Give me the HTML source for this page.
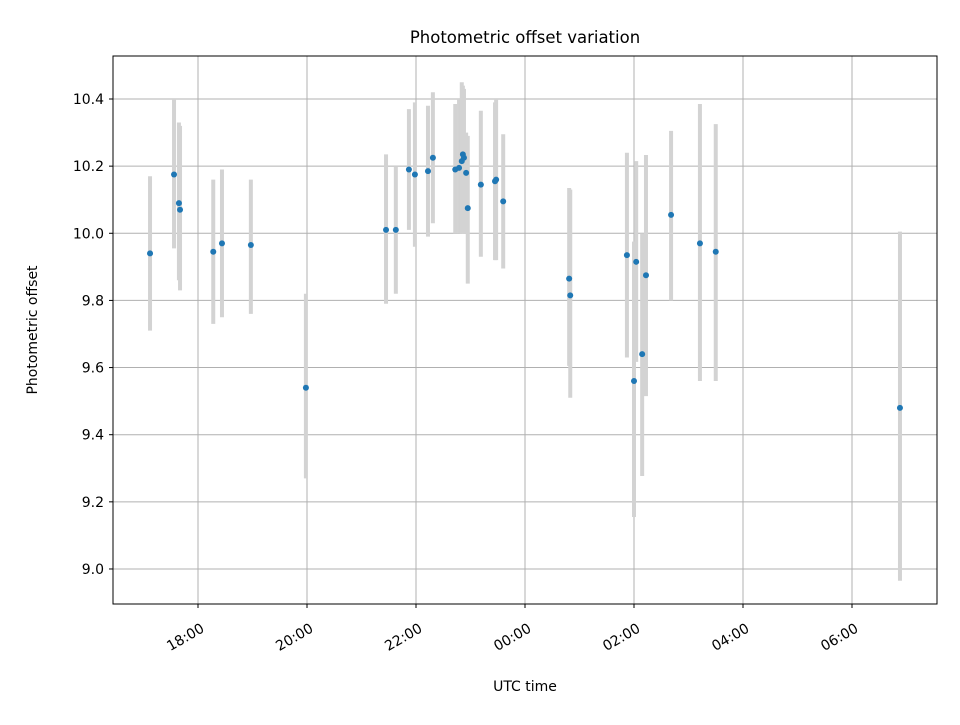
<!DOCTYPE html>
<html><head><meta charset="utf-8"><style>
body{margin:0;background:#fff}
svg text{font-family:"DejaVu Sans","Liberation Sans",sans-serif;fill:#000}
</style></head><body>
<svg id="chart" width="960" height="720" xmlns="http://www.w3.org/2000/svg">
<rect width="960" height="720" fill="#fff"/>
<g id="grid"></g>
<g id="bars"></g>
<g id="pts"></g>
<rect x="113" y="56" width="824" height="548" fill="none" stroke="#000" stroke-width="1"/>
<g id="axes"></g>
<text x="525" y="43" font-size="16.5" text-anchor="middle">Photometric offset variation</text>
<text x="525" y="691" font-size="14" text-anchor="middle">UTC time</text>
<text transform="translate(37,330) rotate(-90)" font-size="14" text-anchor="middle">Photometric offset</text>
</svg>
<script>
const times=[17.12,17.56,17.65,17.67,18.28,18.44,18.97,19.98,21.45,21.63,21.87,21.98,22.22,22.31,22.72,22.79,22.84,22.86,22.88,22.92,22.95,23.19,23.45,23.47,23.60,24.81,24.83,25.87,26.0,26.04,26.15,26.22,26.68,27.21,27.50,30.88];
const values=[9.94,10.175,10.09,10.07,9.945,9.97,9.965,9.54,10.01,10.01,10.19,10.175,10.185,10.225,10.19,10.195,10.215,10.235,10.225,10.18,10.075,10.145,10.155,10.16,10.095,9.865,9.815,9.935,9.56,9.915,9.64,9.875,10.055,9.97,9.945,9.48];
const errHi=[10.17,10.40,10.33,10.32,10.16,10.19,10.16,9.82,10.235,10.20,10.37,10.39,10.38,10.42,10.385,10.40,10.45,10.44,10.43,10.30,10.29,10.365,10.39,10.40,10.295,10.135,10.13,10.24,9.975,10.215,10.0,10.233,10.305,10.385,10.325,10.005];
const errLo=[9.71,9.955,9.86,9.83,9.73,9.75,9.76,9.27,9.79,9.82,10.01,9.96,9.99,10.03,10.0,10.0,10.0,10.0,10.0,10.0,9.85,9.93,9.92,9.92,9.895,9.605,9.51,9.63,9.155,9.617,9.277,9.515,9.80,9.56,9.56,8.965];
const yTicks=[9.0,9.2,9.4,9.6,9.8,10.0,10.2,10.4];
const xTicks=[18,20,22,24,26,28,30];
const xTickLabels=["18:00","20:00","22:00","00:00","02:00","04:00","06:00"];
const NS="http://www.w3.org/2000/svg";
const X=h=>198+(h-18)*54.5;
const Y=v=>99+(10.4-v)*335.7;
function mk(tag,attrs,parent){const e=document.createElementNS(NS,tag);for(const k in attrs)e.setAttribute(k,attrs[k]);parent.appendChild(e);return e;}
const grid=document.getElementById('grid'),axes=document.getElementById('axes'),bars=document.getElementById('bars'),pts=document.getElementById('pts');
yTicks.forEach(v=>{const y=Y(v);
 const g=mk('line',{x1:113,x2:937,y1:y,y2:y,stroke:'#b0b0b0','stroke-width':1},grid);
 
 
 const t=mk('line',{x1:109,x2:113,y1:y,y2:y,stroke:'#000'},axes);
 
 
 const l=mk('text',{x:104,y:y+5,'font-size':14,'text-anchor':'end'},axes);l.textContent=v.toFixed(1);
 
 
});
xTicks.forEach((h,i)=>{const x=X(h);
 const g=mk('line',{x1:x,x2:x,y1:56,y2:604,stroke:'#b0b0b0','stroke-width':1},grid);
 
 
 const t=mk('line',{x1:x,x2:x,y1:604,y2:608,stroke:'#000'},axes);
 
 
 const l=mk('text',{transform:`translate(${x+2},${622}) rotate(-30)`,'font-size':14,'text-anchor':'end',dy:'0.75em'},axes);l.textContent=xTickLabels[i];
 
 
});
times.forEach((h,i)=>{const x=X(h);
 const b=mk('line',{x1:x,x2:x,y1:Y(errHi[i]),y2:Y(errLo[i]),stroke:'#d3d3d3','stroke-width':4},bars);
 
 
 const c=mk('circle',{cx:x,cy:Y(values[i]),r:3,fill:'#1f77b4'},pts);
 
 
});
</script>
</body></html>
